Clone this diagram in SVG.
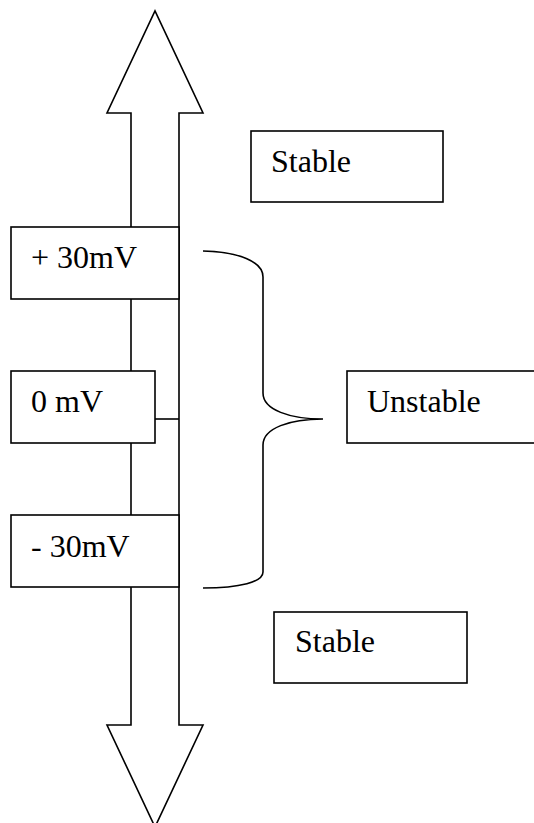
<svg xmlns="http://www.w3.org/2000/svg" width="534" height="823" viewBox="0 0 534 823">
<style>
.s{fill:none;stroke:#000;stroke-width:1.6}
.b{fill:#fff;stroke:#000;stroke-width:1.6}
.t{font-family:"Liberation Serif","Times New Roman",serif;font-size:32px;fill:#000}
</style>
<rect width="534" height="823" fill="#fff"/>
<g id="arrow">
<path class="s" d="M131,227 V113 H107 L155,11 L203,113 H179 V725 H203 L155,827 L107,725 H131 V587 M131,515 V443 M131,371 V299"/>
</g>
<g id="connectors">
<line class="s" x1="155" y1="419" x2="179" y2="419"/>
<path class="s" d="M203,251 C240,252 263,262 263,277 V393 C263,410 290,419 323,419 C290,419 263,428 263,445 V572 C263,582 240,588 203,588"/>
</g>
<g id="plus30">
<rect class="b" x="11" y="227" width="168" height="72"/>
<text class="t" x="31" y="268">+ 30mV</text>
</g>
<g id="zero">
<rect class="b" x="11" y="371" width="144" height="72"/>
<text class="t" x="31" y="412">0 mV</text>
</g>
<g id="minus30">
<rect class="b" x="11" y="515" width="168" height="72"/>
<text class="t" x="31" y="557">- 30mV</text>
</g>
<g id="stableTop">
<rect class="b" x="251" y="131" width="192" height="71"/>
<text class="t" x="271" y="172">Stable</text>
</g>
<g id="unstable">
<rect class="b" x="347" y="371" width="200" height="72"/>
<text class="t" x="367" y="412">Unstable</text>
</g>
<g id="stableBottom">
<rect class="b" x="274" y="612" width="193" height="71"/>
<text class="t" x="295" y="652">Stable</text>
</g>
</svg>
